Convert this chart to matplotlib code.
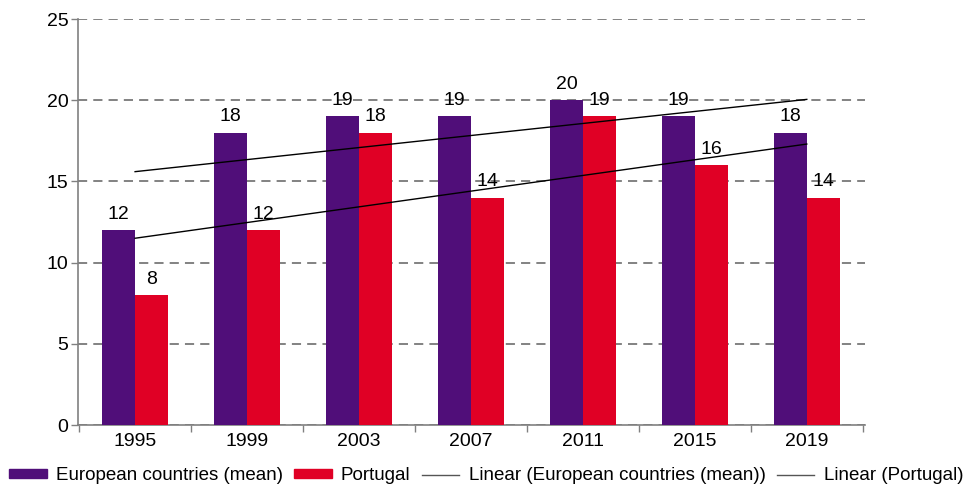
import matplotlib
matplotlib.use("Agg")
import matplotlib.pyplot as plt
import numpy as np
from matplotlib.patches import Patch
from matplotlib.lines import Line2D

plt.rcParams['font.family'] = ['Liberation Sans', 'DejaVu Sans']

years = ['1995', '1999', '2003', '2007', '2011', '2015', '2019']
europe = [12, 18, 19, 19, 20, 19, 18]
portugal = [8, 12, 18, 14, 19, 16, 14]
europe_trend = [15.6, 20.05]   # trendline endpoints (first, last category)
portugal_trend = [11.5, 17.3]
yticks = [0, 5, 10, 15, 20, 25]

c_eu = '#500E79'
c_pt = '#E00025'
fs = 14

fig = plt.figure(figsize=(9.74, 4.88), dpi=100)
ax = fig.add_axes([78/974, 1-425/488, (865-78)/974, (425-19)/488])

x = np.arange(len(years))
w = 0.295
ax.bar(x - w/2, europe, w, color=c_eu, zorder=3)
ax.bar(x + w/2, portugal, w, color=c_pt, zorder=3)

for xi, v in zip(x, europe):
    ax.text(xi - w/2, v + 0.45, str(v), ha='center', va='bottom', fontsize=fs, zorder=5)
for xi, v in zip(x, portugal):
    ax.text(xi + w/2, v + 0.45, str(v), ha='center', va='bottom', fontsize=fs, zorder=5)

ax.plot([x[0], x[-1]], europe_trend, color='black', lw=1, zorder=4)
ax.plot([x[0], x[-1]], portugal_trend, color='black', lw=1, zorder=4)

ax.set_xlim(-0.51, 6.52)
ax.set_ylim(0, 25)
ax.set_yticks(yticks)
ax.set_yticklabels([str(t) for t in yticks], fontsize=fs)
ax.set_xticks(x)
ax.set_xticklabels(years, fontsize=fs)
ax.set_xticks(np.arange(-0.5, 6.6, 1), minor=True)
ax.tick_params(axis='x', which='major', length=0, pad=6)
ax.tick_params(axis='x', which='minor', length=5, color='#808080', width=1)
ax.tick_params(axis='y', length=5, color='#808080', width=1, pad=2)

ax.yaxis.grid(True, linestyle=(0, (6, 4)), color='#606060', lw=1.1, zorder=0)
ax.set_axisbelow(True)
for s in ['top', 'right']:
    ax.spines[s].set_visible(False)
for s in ['left', 'bottom']:
    ax.spines[s].set_color('#808080')
    ax.spines[s].set_linewidth(1.2)

handles = [Patch(color=c_eu), Patch(color=c_pt),
           Line2D([], [], color='#555555', lw=1), Line2D([], [], color='#555555', lw=1)]
labels = ['European countries (mean)', 'Portugal',
          'Linear (European countries (mean))', 'Linear (Portugal)']
fig.legend(handles, labels, loc='center left', bbox_to_anchor=(9/974, 1-476/488),
           ncol=4, frameon=False, fontsize=13.5, handlelength=2.0, handleheight=0.35,
           handletextpad=0.5, columnspacing=0.6, borderaxespad=0, borderpad=0)

fig.savefig('out.png', dpi=100)
